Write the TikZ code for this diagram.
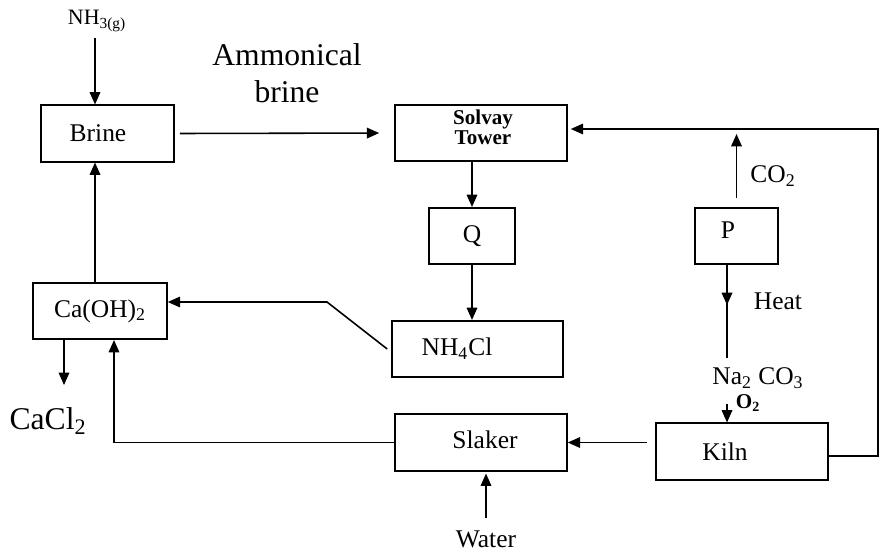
\documentclass[tikz,border=0pt]{standalone}
\usepackage{fontspec}
\setmainfont{Liberation Serif}
\usetikzlibrary{arrows.meta}

\begin{document}
\begin{tikzpicture}[x=0.02cm, y=-0.02cm,
  every node/.style = {font=\fontsize{14.5}{16}\selectfont},
  box/.style = {draw, line width=0.9pt, inner sep=0pt, minimum height=1.13cm},
  flow/.style = {line width=0.9pt, -{Triangle[length=7pt, width=6pt]}},
  line/.style = {line width=0.9pt}]
\useasboundingbox (0,0) rectangle (882,555);
% boxes
\node[box, minimum width=2.66cm] (brine) at (107.5,133.5){};
\node[] (brinetxt) at (98,133){Brine};
\node[box, minimum width=3.44cm, align=center, font=\fontsize{12}{11.5}\selectfont\bfseries] (solvay) at (481,133){};
\node[align=center, font=\fontsize{12}{11.5}\selectfont\bfseries] (solvaytxt) at (483,127){Solvay\\Tower};
\node[box, minimum width=1.72cm] (q) at (472,236){Q};
\node[box, minimum width=1.66cm] (p) at (736.5,236){};
\node[] (ptxt) at (728,230){P};
\node[box, minimum width=2.68cm] (caoh) at (100,311){Ca(OH)\textsubscript{2}};
\node[box, minimum width=3.42cm] (nh4cl) at (477.5,349){};
\node[] (nh4cltxt) at (457,349){NH\textsubscript{4}Cl};
\node[box, minimum width=3.44cm] (slaker) at (481,442.5){};
\node[] (slakertxt) at (485,440){Slaker};
\node[box, minimum width=3.44cm] (kiln) at (742,451.5){};
\node[] (kilntxt) at (725,452){Kiln};
% free labels
\node[font=\fontsize{12.5}{14}\selectfont] (nh3) at (97,21){NH\textsubscript{3(g)}};
\node[font=\fontsize{18}{21}\selectfont, align=center] (ambrine) at (287,73){Ammonical\\brine};
\node[font=\fontsize{18}{21}\selectfont] (cacl2) at (48,421){CaCl\textsubscript{2}};
\node[] (co2) at (773,176){CO\textsubscript{2}};
\node[] (heat) at (778,301){Heat};
\node[] (na2co3) at (758,378){Na\textsubscript{2} CO\textsubscript{3}};
\node[font=\fontsize{12}{14}\selectfont\bfseries] (o2) at (748,403){O\textsubscript{2}};
\node[] (water) at (486,539){Water};
% helper points
\coordinate (col) at (95,0);
\coordinate (cacl2in) at (64,385);
\coordinate (bend) at (327,302);
\coordinate (loop) at (878,129);
\coordinate (na) at (727,358);
% connectors
\draw[flow] (nh3.south -| col) -- (brine.north -| col);
\draw[flow, shorten <=0.1cm, shorten >=0.3cm] (brine.east) -- (solvay.west);
\draw[flow] (solvay.south -| q.north) -- (q.north);
\draw[flow] (q.south) -- (q.south |- nh4cl.north);
\draw[flow] ([xshift=-0.08cm]nh4cl.west) -- (bend) -- (bend -| caoh.east);
\draw[flow] (caoh.north -| col) -- (brine.south -| col);
\draw[flow] (caoh.south -| cacl2in) -- (cacl2in);
\draw[flow] (slaker.west) -| ([xshift=0.28cm]caoh.south);
\draw[flow, shorten <=0.16cm] (kiln.west |- slaker) -- (slaker.east);
\draw[flow, shorten <=0.12cm, shorten >=0.04cm] (water.north) -- (water.north |- slaker.south);
\draw[flow, shorten >=0.06cm] ([yshift=-0.09cm]kiln.east) -| (loop) -- (loop -| solvay.east);
\draw[flow, shorten <=0.18cm, shorten >=0.1cm] (p.north) -- (p.north |- loop);
\draw[line] (p.south -| na) -- (na);
\draw[flow] (p.south -| na) -- +(0,40);
\draw[flow] ([yshift=-0.18cm]na2co3.south -| na) -- (kiln.north -| na);
\end{tikzpicture}
\end{document}
